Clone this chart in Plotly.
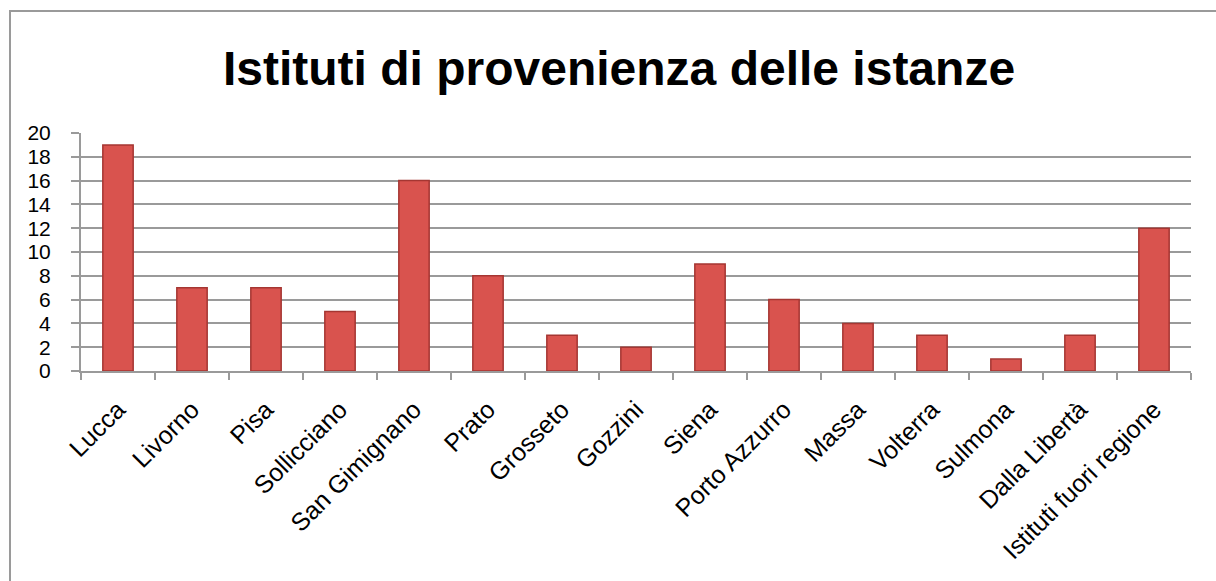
import plotly.graph_objects as go

categories = ["Lucca", "Livorno", "Pisa", "Sollicciano", "San Gimignano", "Prato",
              "Grosseto", "Gozzini", "Siena", "Porto Azzurro", "Massa", "Volterra",
              "Sulmona", "Dalla Libertà", "Istituti fuori regione"]
values = [19, 7, 7, 5, 16, 8, 3, 2, 9, 6, 4, 3, 1, 3, 12]
y_ticks = list(range(0, 21, 2))

W, H = 1216, 581
ml, mr, mt, mb = 81, 25, 133, 210
pw, ph = W - ml - mr, H - mt - mb

fig = go.Figure()
fig.add_trace(go.Bar(
    x=categories, y=values, width=0.41,
    marker=dict(color="#D9534E", line=dict(color="#A53632", width=1.5)),
))

# border of chart area
bx0 = (10 - ml) / pw
by1 = (H - mb - 11) / ph
fig.add_shape(type="rect", xref="paper", yref="paper",
              x0=bx0, x1=(W + 20 - ml) / pw, y0=-(mb + 20) / ph, y1=by1,
              line=dict(color="#9a9a9a", width=2), fillcolor="rgba(0,0,0,0)", layer="below")

fig.update_layout(
    width=W, height=H,
    margin=dict(l=ml, r=mr, t=mt, b=mb),
    paper_bgcolor="white", plot_bgcolor="white",
    showlegend=False,
    font=dict(family="Liberation Sans, Arial, sans-serif", color="black"),
    title=dict(text="<b>Istituti di provenienza delle istanze</b>",
               font=dict(size=48, color="black", family="Liberation Sans, Arial, sans-serif"),
               x=619 / W, xanchor="center", xref="container",
               y=1 - 68 / H, yanchor="middle", yref="container"),
    xaxis=dict(type="category", tickangle=-45,
               tickfont=dict(size=25, family="Liberation Sans, Arial, sans-serif"),
               ticks="outside", tickson="boundaries", ticklen=7, tickcolor="#9a9a9a",
               tickwidth=2, showline=True, linecolor="#9a9a9a", linewidth=2,
               showgrid=False, ticklabelstandoff=12),
    yaxis=dict(range=[0, 20], tickvals=y_ticks,
               tickfont=dict(size=21, family="Liberation Sans, Arial, sans-serif"),
               ticks="outside", ticklen=8, tickcolor="#9a9a9a", tickwidth=2,
               showline=True, linecolor="#9a9a9a", linewidth=2,
               showgrid=True, gridcolor="#9a9a9a", gridwidth=2, zeroline=False,
               ticklabelstandoff=16),
    bargap=0.59,
)

fig.write_html("out.html")
